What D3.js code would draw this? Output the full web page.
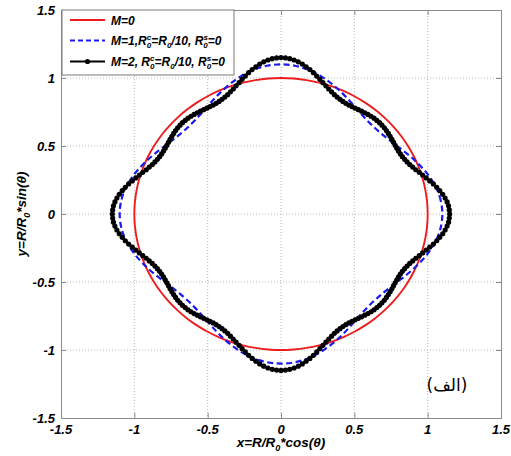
<!DOCTYPE html>
<html>
<head>
<meta charset="utf-8">
<script src="https://cdn.jsdelivr.net/npm/d3@7/dist/d3.min.js"></script>
<style>
  html, body { margin: 0; padding: 0; background: #fff; }
  svg { display: block; }
  .tick-label { font-family: "Liberation Sans", Arial, sans-serif; font-weight: bold; font-style: italic; font-size: 13px; fill: #000; }
  .axis-title { font-family: "Liberation Sans", Arial, sans-serif; font-weight: bold; font-style: italic; font-size: 13.5px; fill: #000; }
  .legend-text { font-family: "Liberation Sans", Arial, sans-serif; font-weight: bold; font-style: italic; font-size: 12px; fill: #000; }
</style>
</head>
<body>
<svg id="chart" width="511" height="456"></svg>
<script>
// ---------------- data ----------------
const xTicks = [-1.5, -1, -0.5, 0, 0.5, 1, 1.5];
const yTicks = [-1.5, -1, -0.5, 0, 0.5, 1, 1.5];
const tickLabels = ["-1.5", "-1", "-0.5", "0", "0.5", "1", "1.5"];

const seriesNames = ["M=0", "M=1", "M=2"];

// angles (degrees) of one quadrant, 5 degree steps, for the two smooth lines
const anglesCoarse = [0, 5, 10, 15, 20, 25, 30, 35, 40, 45, 50, 55, 60, 65, 70, 75, 80, 85, 90];
// M=0 : radius R/R0 read along the quadrant
const rM0 = [1.000, 1.000, 1.000, 1.000, 1.000, 1.000, 1.000, 1.000, 1.000, 1.000,
             1.000, 1.000, 1.000, 1.000, 1.000, 1.000, 1.000, 1.000, 1.000];
// M=1 : radius R/R0 read along the quadrant
const rM1 = [1.100, 1.094, 1.077, 1.050, 1.017, 0.983, 0.950, 0.923, 0.906, 0.900,
             0.906, 0.923, 0.950, 0.983, 1.017, 1.050, 1.077, 1.094, 1.100];

// M=2 : marker angles (degrees) of one quadrant, 1.5 degree steps
const anglesFine = [0, 1.5, 3, 4.5, 6, 7.5, 9, 10.5, 12, 13.5, 15, 16.5, 18, 19.5, 21, 22.5,
  24, 25.5, 27, 28.5, 30, 31.5, 33, 34.5, 36, 37.5, 39, 40.5, 42, 43.5, 45,
  46.5, 48, 49.5, 51, 52.5, 54, 55.5, 57, 58.5, 60, 61.5, 63, 64.5, 66, 67.5,
  69, 70.5, 72, 73.5, 75, 76.5, 78, 79.5, 81, 82.5, 84, 85.5, 87, 88.5, 90];
const rM2 = [1.150, 1.148, 1.144, 1.136, 1.125, 1.112, 1.096, 1.080, 1.062, 1.043, 1.025,
  1.007, 0.991, 0.975, 0.962, 0.950, 0.941, 0.934, 0.929, 0.926, 0.925, 0.926, 0.928,
  0.931, 0.935, 0.938, 0.942, 0.945, 0.948, 0.949, 0.950, 0.949, 0.948, 0.945, 0.942,
  0.938, 0.935, 0.931, 0.928, 0.926, 0.925, 0.926, 0.929, 0.934, 0.941, 0.950, 0.962,
  0.975, 0.991, 1.007, 1.025, 1.043, 1.062, 1.080, 1.096, 1.112, 1.125, 1.136, 1.144,
  1.148, 1.150];

const panelLabel = "(الف)";

// ---------------- build closed curves (the figure has four-fold symmetry) ----------------
function buildCurve(angles, radii) {
  const pts = [];
  for (let q = 0; q < 4; q++) {
    for (let i = 0; i < angles.length - 1; i++) {
      const th = (q * 90 + angles[i]) * Math.PI / 180;
      pts.push([radii[i] * Math.cos(th), radii[i] * Math.sin(th)]);
    }
  }
  return pts;
}
const ptsM0 = buildCurve(anglesCoarse, rM0);
const ptsM1 = buildCurve(anglesCoarse, rM1);
const ptsM2 = buildCurve(anglesFine, rM2);

// ---------------- layout ----------------
const svg = d3.select("#chart");
const pL = 61, pR = 501, pT = 10, pB = 418;
const x = d3.scaleLinear().domain([-1.5, 1.5]).range([pL, pR]);
const y = d3.scaleLinear().domain([-1.5, 1.5]).range([pB, pT]);

const axisColor = "#8a8a8a";

// grid (dotted)
const grid = svg.append("g");
grid.selectAll("line.vg").data(xTicks.slice(1, -1)).join("line")
  .attr("x1", d => x(d)).attr("x2", d => x(d)).attr("y1", pT).attr("y2", pB)
  .attr("stroke", "#b8b8b8").attr("stroke-width", 1).attr("stroke-dasharray", "1,2");
grid.selectAll("line.hg").data(yTicks.slice(1, -1)).join("line")
  .attr("y1", d => y(d)).attr("y2", d => y(d)).attr("x1", pL).attr("x2", pR)
  .attr("stroke", "#b8b8b8").attr("stroke-width", 1).attr("stroke-dasharray", "1,2");

// axes (ticks inward on all four sides)
const tl = 5;
svg.append("g").attr("transform", `translate(0,${pB})`)
  .call(d3.axisBottom(x).tickValues(xTicks).tickSize(-tl).tickFormat(""))
  .call(g => g.selectAll("line,path").attr("stroke", axisColor));
svg.append("g").attr("transform", `translate(0,${pT})`)
  .call(d3.axisTop(x).tickValues(xTicks).tickSize(-tl).tickFormat(""))
  .call(g => g.selectAll("line,path").attr("stroke", axisColor));
svg.append("g").attr("transform", `translate(${pL},0)`)
  .call(d3.axisLeft(y).tickValues(yTicks).tickSize(-tl).tickFormat(""))
  .call(g => g.selectAll("line,path").attr("stroke", axisColor));
svg.append("g").attr("transform", `translate(${pR},0)`)
  .call(d3.axisRight(y).tickValues(yTicks).tickSize(-tl).tickFormat(""))
  .call(g => g.selectAll("line,path").attr("stroke", axisColor));

// tick labels
svg.append("g").selectAll("text").data(xTicks).join("text")
  .attr("class", "tick-label").attr("x", d => x(d)).attr("y", 434)
  .attr("text-anchor", "middle").text((d, i) => tickLabels[i]);
svg.append("g").selectAll("text").data(yTicks).join("text")
  .attr("class", "tick-label").attr("x", 55).attr("y", d => y(d) + 4.5)
  .attr("text-anchor", "end").text((d, i) => tickLabels[i]);

// axis titles
function richTitle(sel, prefix, fn) {
  sel.append("tspan").text(prefix + "=R/R");
  sel.append("tspan").attr("dy", 4).attr("font-size", "9px").text("0");
  sel.append("tspan").attr("dy", -4).text("*" + fn + "(");
  sel.append("tspan").text("θ");
  sel.append("tspan").text(")");
}
const xt = svg.append("text").attr("class", "axis-title")
  .attr("x", x(0)).attr("y", 447).attr("text-anchor", "middle");
richTitle(xt, "x", "cos");
const yt = svg.append("text").attr("class", "axis-title")
  .attr("transform", `translate(26,${y(0)}) rotate(-90)`).attr("text-anchor", "middle");
richTitle(yt, "y", "sin");

// curves
const line = d3.line().x(d => x(d[0])).y(d => y(d[1])).curve(d3.curveCatmullRomClosed);
const plot = svg.append("g");
plot.append("path").datum(ptsM0).attr("d", line)
  .attr("fill", "none").attr("stroke", "#ee1c1c").attr("stroke-width", 1.9);
plot.append("path").datum(ptsM1).attr("d", line)
  .attr("fill", "none").attr("stroke", "#1a1aee").attr("stroke-width", 2.2)
  .attr("stroke-dasharray", "6,3.5");
plot.append("path").datum(ptsM2).attr("d", line)
  .attr("fill", "none").attr("stroke", "#000").attr("stroke-width", 2.4);
plot.append("g").selectAll("circle").data(ptsM2).join("circle")
  .attr("cx", d => x(d[0])).attr("cy", d => y(d[1])).attr("r", 2.6).attr("fill", "#000");

// legend
const lg = svg.append("g");
lg.append("rect").attr("x", 62).attr("y", 10).attr("width", 172).attr("height", 65)
  .attr("fill", "#fff").attr("stroke", "#7a7a7a").attr("stroke-width", 1);
const rowsY = [20, 40.5, 61.5];
const styles = [
  { color: "#ee1c1c", dash: null, w: 1.9, marker: false },
  { color: "#1a1aee", dash: "5,3", w: 2.2, marker: false },
  { color: "#000", dash: null, w: 2.2, marker: true }
];
rowsY.forEach((ry, i) => {
  const s = styles[i];
  const l = lg.append("line").attr("x1", 70).attr("x2", 105).attr("y1", ry).attr("y2", ry)
    .attr("stroke", s.color).attr("stroke-width", s.w);
  if (s.dash) l.attr("stroke-dasharray", s.dash);
  if (s.marker) lg.append("circle").attr("cx", 87.5).attr("cy", ry).attr("r", 2.6).attr("fill", "#000");
});
function rWithSubSup(t, sup) {
  t.append("tspan").text("R");
  t.append("tspan").attr("dy", 3).attr("font-size", "8px").text("0");
  t.append("tspan").attr("dx", -4.4).attr("dy", -8).attr("font-size", "8px").text(sup);
  t.append("tspan").attr("dy", 5).text("=R");
  t.append("tspan").attr("dy", 3).attr("font-size", "8px").text("0");
}
// row 1
lg.append("text").attr("class", "legend-text").attr("x", 111).attr("y", rowsY[0] + 4.5).text(seriesNames[0]);
// row 2
{
  const t = lg.append("text").attr("class", "legend-text").attr("x", 111).attr("y", rowsY[1] + 4.5);
  t.append("tspan").text(seriesNames[1] + ",");
  rWithSubSup(t, "c");
  t.append("tspan").attr("dy", -3).text("/10, R");
  t.append("tspan").attr("dy", 3).attr("font-size", "8px").text("0");
  t.append("tspan").attr("dx", -4.4).attr("dy", -8).attr("font-size", "8px").text("s");
  t.append("tspan").attr("dy", 5).text("=0");
}
// row 3
{
  const t = lg.append("text").attr("class", "legend-text").attr("x", 111).attr("y", rowsY[2] + 4.5);
  t.append("tspan").text(seriesNames[2] + ", ");
  rWithSubSup(t, "c");
  t.append("tspan").attr("dy", -3).text("/10, R");
  t.append("tspan").attr("dy", 3).attr("font-size", "8px").text("0");
  t.append("tspan").attr("dx", -4.4).attr("dy", -8).attr("font-size", "8px").text("s");
  t.append("tspan").attr("dy", 5).text("=0");
}

// panel label
svg.append("text").attr("x", 447).attr("y", 391).attr("text-anchor", "middle")
  .attr("direction", "rtl")
  .style("font-family", "'DejaVu Sans', sans-serif").style("font-size", "17px")
  .text(panelLabel);
</script>
</body>
</html>
